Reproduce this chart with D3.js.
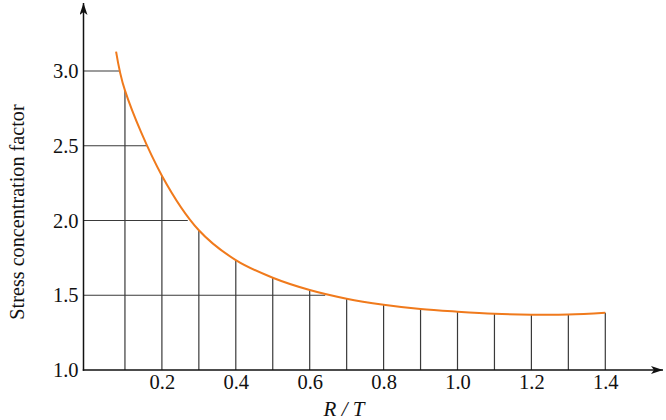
<!DOCTYPE html>
<html>
<head>
<meta charset="utf-8">
<script src="https://cdn.jsdelivr.net/npm/d3@7"></script>
<style>
  html, body { margin: 0; padding: 0; background: #fff; }
  svg { display: block; font-family: "Liberation Serif", "Times New Roman", serif; }
</style>
</head>
<body>
<svg id="chart" width="666" height="420"></svg>
<script>
// curve (R/T, factor)
const curveX = [0.076, 0.1, 0.2, 0.3, 0.4, 0.5, 0.6, 0.7, 0.8, 0.9, 1.0, 1.1, 1.2, 1.3, 1.4];
const curveY = [3.13, 2.87, 2.30, 1.935, 1.735, 1.617, 1.535, 1.477, 1.437, 1.408, 1.39, 1.376, 1.370, 1.371, 1.383];

// drop lines from the x axis at these R/T values
const dropX = [0.1, 0.2, 0.3, 0.4, 0.5, 0.6, 0.7, 0.8, 0.9, 1.0, 1.1, 1.2, 1.3, 1.4];
const dropY = [2.87, 2.30, 1.935, 1.735, 1.617, 1.535, 1.477, 1.437, 1.408, 1.39, 1.376, 1.370, 1.371, 1.383];

// horizontal lines from the y axis to the curve
const levelY = [3.0, 2.5, 2.0, 1.5];
const levelX = [0.087, 0.16, 0.27, 0.642];

const xTicks = [0.2, 0.4, 0.6, 0.8, 1.0, 1.2, 1.4];
const yTicks = [1.0, 1.5, 2.0, 2.5, 3.0];

const svg = d3.select('#chart');

const x = d3.scaleLinear().domain([0, 1.4]).range([88, 605.3]);
const y = d3.scaleLinear().domain([1, 3]).range([370, 71]);

const axisLeftX = 83.5;
const ink = '#3a3a3a';

svg.append('defs').append('marker')
  .attr('id', 'arrow')
  .attr('viewBox', '0 0 12 8')
  .attr('refX', 12)
  .attr('refY', 4)
  .attr('markerWidth', 12)
  .attr('markerHeight', 8)
  .attr('markerUnits', 'userSpaceOnUse')
  .attr('orient', 'auto')
  .append('path')
  .attr('d', 'M0,0 L12,4 L0,8 L3,4 Z')
  .attr('fill', '#111');

// vertical drop lines
svg.selectAll('.drop')
  .data(dropX)
  .enter()
  .append('line')
  .attr('x1', d => x(d))
  .attr('x2', d => x(d))
  .attr('y1', y(1))
  .attr('y2', (d, i) => y(dropY[i]))
  .attr('stroke', ink)
  .attr('stroke-width', 1.2);

// horizontal level lines
svg.selectAll('.level')
  .data(levelY)
  .enter()
  .append('line')
  .attr('x1', axisLeftX)
  .attr('x2', (d, i) => x(levelX[i]))
  .attr('y1', d => y(d))
  .attr('y2', d => y(d))
  .attr('stroke', ink)
  .attr('stroke-width', 1.2);

// curve
const pts = curveX.map((v, i) => [v, curveY[i]]);
svg.append('path')
  .datum(pts)
  .attr('fill', 'none')
  .attr('stroke', '#f07a1c')
  .attr('stroke-width', 2)
  .attr('d', d3.line()
    .x(d => x(d[0]))
    .y(d => y(d[1]))
    .curve(d3.curveCatmullRom.alpha(0.5)));

// axes with arrows
svg.append('line')
  .attr('x1', axisLeftX - 0.75).attr('x2', 663)
  .attr('y1', y(1)).attr('y2', y(1))
  .attr('stroke', '#111').attr('stroke-width', 1.5)
  .attr('marker-end', 'url(#arrow)');
svg.append('line')
  .attr('x1', axisLeftX).attr('x2', axisLeftX)
  .attr('y1', y(1) + 0.75).attr('y2', 3)
  .attr('stroke', '#111').attr('stroke-width', 1.5)
  .attr('marker-end', 'url(#arrow)');

// tick labels through d3 axes, no tick lines
const gx = svg.append('g')
  .attr('transform', `translate(0,${y(1)})`)
  .call(d3.axisBottom(x).tickValues(xTicks).tickSize(0).tickPadding(4).tickFormat(d3.format('.1f')));
gx.select('.domain').remove();
gx.selectAll('text')
  .attr('font-family', '"Liberation Serif", serif')
  .attr('font-size', 20.5)
  .attr('fill', '#111');

const gy = svg.append('g')
  .attr('transform', `translate(${axisLeftX},0)`)
  .call(d3.axisLeft(y).tickValues(yTicks).tickSize(0).tickPadding(5).tickFormat(d3.format('.1f')));
gy.select('.domain').remove();
gy.selectAll('text')
  .attr('font-family', '"Liberation Serif", serif')
  .attr('font-size', 20.5)
  .attr('fill', '#111');

// axis titles
svg.append('text')
  .attr('x', 344)
  .attr('y', 416)
  .attr('text-anchor', 'middle')
  .attr('font-size', 21)
  .attr('font-style', 'italic')
  .attr('fill', '#111')
  .text('R / T');

svg.append('text')
  .attr('transform', 'rotate(-90)')
  .attr('x', -212)
  .attr('y', 24)
  .attr('text-anchor', 'middle')
  .attr('font-size', 20.2)
  .attr('fill', '#111')
  .text('Stress concentration factor');
</script>
</body>
</html>
